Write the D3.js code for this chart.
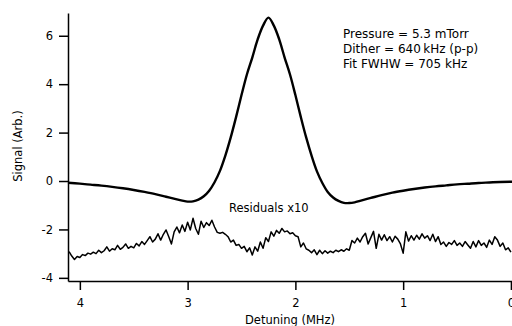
<!DOCTYPE html>
<html>
    <head>
        <meta charset="utf-8">
        <title>Signal vs Detuning</title>
        <script src="https://d3js.org/d3.v7.min.js"></script>
        <style>
            body { margin: 0; background: #fff; }
            text { font-family: "DejaVu Sans", sans-serif; font-size: 11.5px; fill: #000; }
            text.note { font-size: 12px; }
        </style>
    </head>
    <body>
        <script>
            var w = 512;
            var h = 326;

            // fitted lineshape (detuning in MHz, signal)
            var detuning = [4.11, 4.0, 3.9, 3.8, 3.7, 3.6, 3.5, 3.4, 3.3, 3.2, 3.1, 3.05, 3.0, 2.95, 2.9, 2.85,
                2.8, 2.75, 2.7, 2.65, 2.6, 2.55, 2.5, 2.45, 2.4, 2.35, 2.3, 2.25, 2.2, 2.15, 2.1, 2.05,
                2.0, 1.95, 1.9, 1.85, 1.8, 1.75, 1.7, 1.65, 1.6, 1.55, 1.5, 1.45, 1.4, 1.3, 1.2, 1.1,
                1.0, 0.9, 0.8, 0.7, 0.6, 0.5, 0.4, 0.3, 0.2, 0.1, 0.0, -0.01];
            var signal = [-0.07, -0.11, -0.15, -0.19, -0.24, -0.30, -0.37, -0.45, -0.54, -0.65, -0.76, -0.81, -0.85, -0.84, -0.77, -0.63,
                -0.40, -0.05, 0.42, 1.05, 1.80, 2.65, 3.55, 4.40, 5.10, 5.85, 6.42, 6.75, 6.42, 5.85, 5.10, 4.40,
                3.55, 2.65, 1.80, 1.05, 0.40, -0.08, -0.45, -0.68, -0.82, -0.90, -0.91, -0.88, -0.82, -0.70, -0.58, -0.48,
                -0.40, -0.33, -0.27, -0.22, -0.18, -0.14, -0.11, -0.08, -0.06, -0.04, -0.03, -0.03];

            // residuals x10 (offset), one value every 25 kHz starting at 4.10 MHz
            var resStart = 4.10;
            var resStep = 0.025;
            var residuals = [-2.92, -3.10, -3.24, -3.12, -3.16, -3.04, -3.08, -2.98, -3.02, -2.94,
                -3.00, -2.86, -2.96, -2.88, -2.72, -2.90, -2.80, -2.84, -2.66, -2.82,
                -2.74, -2.60, -2.78, -2.70, -2.76, -2.58, -2.68, -2.50, -2.62, -2.46,
                -2.30, -2.52, -2.40, -2.18, -2.44, -2.20, -2.02, -2.30, -2.60, -2.10,
                -1.90, -2.14, -1.82, -2.08, -1.70, -2.02, -1.54, -1.96, -2.20, -1.66,
                -1.92, -1.72, -1.84, -1.62, -1.90, -2.12, -2.16, -2.12, -2.20, -2.30,
                -2.52, -2.44, -2.66, -2.62, -2.78, -2.70, -2.92, -2.76, -3.06, -2.72,
                -2.90, -2.52, -2.78, -2.34, -2.50, -2.10, -2.28, -2.04, -2.16, -1.96,
                -2.10, -2.06, -2.18, -2.14, -2.26, -2.30, -2.72, -2.56, -2.80, -2.86,
                -2.96, -2.84, -3.04, -2.86, -3.00, -2.88, -2.98, -2.90, -2.96, -2.86,
                -2.92, -2.84, -2.90, -2.80, -2.86, -2.46, -2.56, -2.36, -2.52, -2.30,
                -2.16, -2.60, -2.34, -2.08, -2.78, -2.20, -2.44, -2.22, -2.46, -2.30,
                -2.52, -2.28, -2.40, -2.60, -2.98, -2.10, -2.48, -2.26, -2.44, -2.24,
                -2.40, -2.18, -2.36, -2.26, -2.46, -2.20, -2.50, -2.30, -2.62, -2.52,
                -2.70, -2.54, -2.62, -2.46, -2.66, -2.56, -2.70, -2.50, -2.64, -2.78,
                -2.50, -2.72, -2.46, -2.66, -2.56, -2.74, -2.44, -2.62, -2.30, -2.44,
                -2.70, -2.56, -2.84, -2.76, -2.94];

            var xTicks = [4, 3, 2, 1, 0];
            var yTicks = [-4, -2, 0, 2, 4, 6];
            var notes = ["Pressure = 5.3 mTorr", "Dither = 640\u2009kHz (p-p)", "Fit FWHW = 705 kHz"];

            var svg = d3.select("body").append("svg")
                .attr("width", w)
                .attr("height", h);

            // detuning runs backwards, 4 MHz on the left
            var x = d3.scaleLinear().domain([4.11, -0.01]).range([68, 512]);
            var y = d3.scaleLinear().domain([-4.13, 6.94]).range([281, 13]);

            var xAxis = svg.append("g")
                .attr("transform", "translate(0,281)")
                .call(d3.axisBottom(x).tickValues(xTicks).tickFormat(d3.format("d"))
                    .tickSize(9).tickSizeOuter(0).tickPadding(9));
            var yAxis = svg.append("g")
                .attr("transform", "translate(68,0)")
                .call(d3.axisLeft(y).tickValues(yTicks).tickFormat(d3.format("d"))
                    .tickSize(9).tickSizeOuter(0).tickPadding(6));

            [xAxis, yAxis].forEach(function(g) {
                g.selectAll("path, line").attr("stroke", "#000").attr("stroke-width", 1.5);
                g.selectAll("text").attr("font-family", null).attr("font-size", null);
            });
            yAxis.selectAll("text").text(function(d) { return d3.format("d")(d).replace("\u2212", "-"); });

            // residual trace
            var resLine = d3.line()
                .x(function(d, i) { return x(resStart - i * resStep); })
                .y(function(d) { return y(d); });
            svg.append("path")
                .datum(residuals)
                .attr("d", resLine)
                .attr("fill", "none")
                .attr("stroke", "#000")
                .attr("stroke-width", 1.5)
                .attr("stroke-linejoin", "round");

            // fitted signal
            var sigLine = d3.line()
                .x(function(d, i) { return x(detuning[i]); })
                .y(function(d) { return y(d); })
                .curve(d3.curveCatmullRom);
            svg.append("path")
                .datum(signal)
                .attr("d", sigLine)
                .attr("fill", "none")
                .attr("stroke", "#000")
                .attr("stroke-width", 2.4);

            // labels
            svg.append("text")
                .attr("x", 290).attr("y", 324)
                .attr("text-anchor", "middle")
                .text("Detuning (MHz)");
            svg.append("text")
                .attr("transform", "translate(22,146) rotate(-90)")
                .attr("text-anchor", "middle")
                .text("Signal (Arb.)");
            svg.append("text")
                .attr("x", 229).attr("y", 212)
                .text("Residuals x10");

            svg.selectAll("text.note")
                .data(notes)
                .enter()
                .append("text")
                .attr("class", "note")
                .attr("x", 343)
                .attr("y", function(d, i) { return 38 + i * 15; })
                .text(function(d) { return d; });
        </script>
    </body>
</html>
